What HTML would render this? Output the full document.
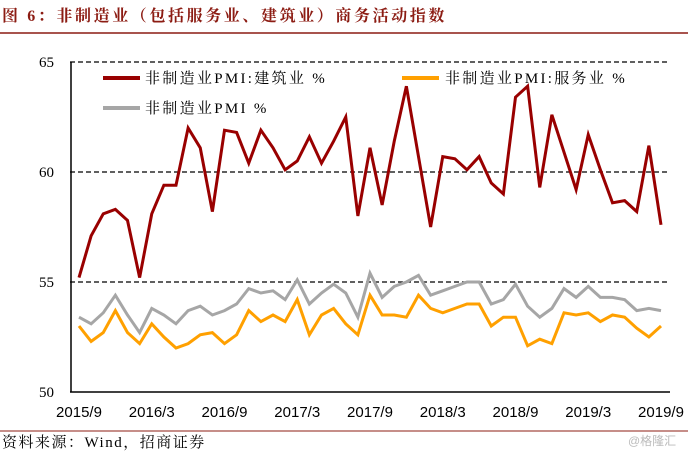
<!DOCTYPE html>
<html><head><meta charset="utf-8"><style>
body{margin:0;background:#fff;width:688px;height:452px;overflow:hidden;font-family:"Liberation Serif","Noto Serif CJK SC",serif;}
</style></head><body>
<svg width="688" height="452" xmlns="http://www.w3.org/2000/svg">
<text x="2" y="21" font-size="16" font-weight="bold" letter-spacing="2.6" fill="#8c1c13" font-family="Liberation Serif, Noto Serif CJK SC, serif">图 6：非制造业（包括服务业、建筑业）商务活动指数</text>
<line x1="0" y1="33" x2="688" y2="33" stroke="#8c1c13" stroke-width="1.5"/>
<g id="grid"></g>
<g id="axes"></g>
<g id="series"></g>
<g font-size="15" font-family="Liberation Serif, Noto Serif CJK SC, serif">
<line x1="103" y1="78" x2="140" y2="78" stroke="#990000" stroke-width="4"/>
<text x="145" y="83" letter-spacing="2.3">非制造业PMI:建筑业 %</text>
<line x1="402" y1="78" x2="439" y2="78" stroke="#ffa000" stroke-width="4"/>
<text x="445" y="83" letter-spacing="2.3">非制造业PMI:服务业 %</text>
<line x1="103" y1="108" x2="140" y2="108" stroke="#a6a6a6" stroke-width="4"/>
<text x="145" y="113" letter-spacing="2.3">非制造业PMI %</text>
</g>
<line x1="0" y1="431" x2="688" y2="431" stroke="#8c1c13" stroke-width="1"/>
<text x="2" y="447" font-size="15" letter-spacing="1.5" fill="#000">资料来源：Wind，招商证券</text>
<text x="628" y="445" font-size="12" fill="#bbb" font-family="Liberation Sans, Noto Sans CJK SC, sans-serif">@格隆汇</text>
</svg>
<script>
const construction=[55.2,57.1,58.1,58.3,57.8,55.2,58.1,59.4,59.4,62.0,61.1,58.2,61.9,61.8,60.4,61.9,61.1,60.1,60.5,61.6,60.4,61.4,62.5,58.0,61.1,58.5,61.4,63.9,60.7,57.5,60.7,60.6,60.1,60.7,59.5,59.0,63.4,63.9,59.3,62.6,60.9,59.2,61.7,60.1,58.6,58.7,58.2,61.2,57.6];
const services=[53.0,52.3,52.7,53.7,52.7,52.2,53.1,52.5,52.0,52.2,52.6,52.7,52.2,52.6,53.7,53.2,53.5,53.2,54.2,52.6,53.5,53.8,53.1,52.6,54.4,53.5,53.5,53.4,54.4,53.8,53.6,53.8,54.0,54.0,53.0,53.4,53.4,52.1,52.4,52.2,53.6,53.5,53.6,53.2,53.5,53.4,52.9,52.5,53.0];
const nonmfg=[53.4,53.1,53.6,54.4,53.5,52.7,53.8,53.5,53.1,53.7,53.9,53.5,53.7,54.0,54.7,54.5,54.6,54.2,55.1,54.0,54.5,54.9,54.5,53.4,55.4,54.3,54.8,55.0,55.3,54.4,54.6,54.8,55.0,55.0,54.0,54.2,54.9,53.9,53.4,53.8,54.7,54.3,54.8,54.3,54.3,54.2,53.7,53.8,53.7];
const xLabels=["2015/9","2016/3","2016/9","2017/3","2017/9","2018/3","2018/9","2019/3","2019/9"];
const yTicks=[50,55,60,65];
const NS="http://www.w3.org/2000/svg";
const x0=79,x1=661,yBase=392,yTop=62,vMin=50,vMax=65;
function xs(i){return x0+(x1-x0)*i/(construction.length-1);}
function ys(v){return yBase-(v-vMin)/(vMax-vMin)*(yBase-yTop);}
function mk(tag,attrs,parent){const e=document.createElementNS(NS,tag);for(const k in attrs)e.setAttribute(k,attrs[k]);parent.appendChild(e);return e;}
const grid=document.getElementById('grid'),axes=document.getElementById('axes'),ser=document.getElementById('series');
yTicks.forEach(v=>{
  if(v>vMin){const l=mk('line',{x1:70,x2:670,y1:ys(v),y2:ys(v),stroke:'#000','stroke-width':1.2,'stroke-dasharray':'5,3'},grid);
  
  }
  const t=mk('text',{x:54,y:ys(v)+5,'font-size':15,'text-anchor':'end',fill:'#000'},axes);t.textContent=v;
  
  
});
const ya=mk('line',{x1:71,x2:71,y1:yTop,y2:yBase,stroke:'#000','stroke-width':1.5},axes);


const xa=mk('line',{x1:70,x2:670,y1:yBase,y2:yBase,stroke:'#000','stroke-width':1.5},axes);


xLabels.forEach((s,k)=>{const t=mk('text',{x:xs(k*6),y:417,'font-size':15,'text-anchor':'middle','font-family':'Liberation Sans, sans-serif',fill:'#000'},axes);t.textContent=s;
  
  });
[[nonmfg,'#a6a6a6','line-nonmfg-pmi'],[services,'#ffa000','line-services-pmi'],[construction,'#990000','line-construction-pmi']].forEach(([d,c,n])=>{
  const p=mk('polyline',{points:d.map((v,i)=>xs(i)+','+ys(v)).join(' '),fill:'none',stroke:c,'stroke-width':3,'stroke-linejoin':'miter'},ser);
  
  
});
</script>
</body></html>
